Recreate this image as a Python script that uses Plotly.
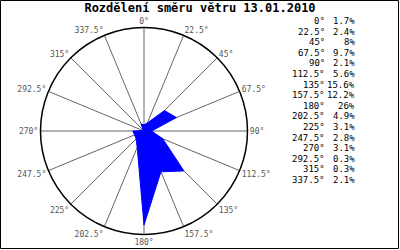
import plotly.graph_objects as go

title_text = "Rozdělení směru větru 13.01.2010"
directions = [0, 22.5, 45, 67.5, 90, 112.5, 135, 157.5, 180, 202.5, 225, 247.5, 270, 292.5, 315, 337.5]
direction_labels = ["0°", "22.5°", "45°", "67.5°", "90°", "112.5°", "135°", "157.5°",
                    "180°", "202.5°", "225°", "247.5°", "270°", "292.5°", "315°", "337.5°"]
percent_values = [1.7, 2.4, 8, 9.7, 2.1, 5.6, 15.6, 12.2, 26, 4.9, 3.1, 2.8, 3.1, 0.3, 0.3, 2.1]
percent_labels = ["1.7%", "2.4%", "8%", "9.7%", "2.1%", "5.6%", "15.6%", "12.2%",
                  "26%", "4.9%", "3.1%", "2.8%", "3.1%", "0.3%", "0.3%", "2.1%"]

W, H = 400, 250
mono = "DejaVu Sans Mono"

fig = go.Figure()
fig.add_trace(go.Scatterpolar(
    r=percent_values + percent_values[:1],
    theta=directions + directions[:1],
    mode="lines",
    fill="toself",
    fillcolor="#0000ff",
    line=dict(color="#0000ff", width=1),
    hoverinfo="skip",
    showlegend=False,
))

cx, cy, rad = 144, 131, 103.5
fig.update_layout(
    width=W, height=H,
    margin=dict(l=0, r=0, t=0, b=0),
    paper_bgcolor="white",
    plot_bgcolor="white",
    showlegend=False,
    polar=dict(
        domain=dict(x=[(cx - rad) / W, (cx + rad) / W], y=[1 - (cy + rad) / H, 1 - (cy - rad) / H]),
        bgcolor="white",
        radialaxis=dict(visible=False, range=[0, max(percent_values) * 1.1], showgrid=False),
        angularaxis=dict(
            direction="clockwise", rotation=90,
            tickmode="array", tickvals=directions, ticktext=direction_labels,
            showline=True, linecolor="black", linewidth=1.5,
            showgrid=True, gridcolor="#666666", gridwidth=1,
            ticks="", tickfont=dict(family=mono, size=8, color="#555555"),
        ),
    ),
    title=dict(text="<b>" + title_text + "</b>", x=0.5, xanchor="center", y=1 - 7.5 / H, yanchor="middle",
               font=dict(family=mono, size=12, color="black")),
)

row0, step = 21, 10.6
for i, (d, p) in enumerate(zip(direction_labels, percent_labels)):
    yy = 1 - (row0 + i * step) / H
    fig.add_annotation(text=d, xref="paper", yref="paper", x=327 / W, y=yy, xanchor="right",
                       yanchor="middle", showarrow=False, font=dict(family=mono, size=9, color="black"))
    fig.add_annotation(text=p, xref="paper", yref="paper", x=357 / W, y=yy, xanchor="right",
                       yanchor="middle", showarrow=False, font=dict(family=mono, size=9, color="black"))

fig.add_shape(type="rect", xref="paper", yref="paper", x0=0.5 / W, x1=1 - 1.5 / W, y0=1.5 / H, y1=1 - 0.5 / H,
              line=dict(color="black", width=1))

fig.write_html("out.html")
